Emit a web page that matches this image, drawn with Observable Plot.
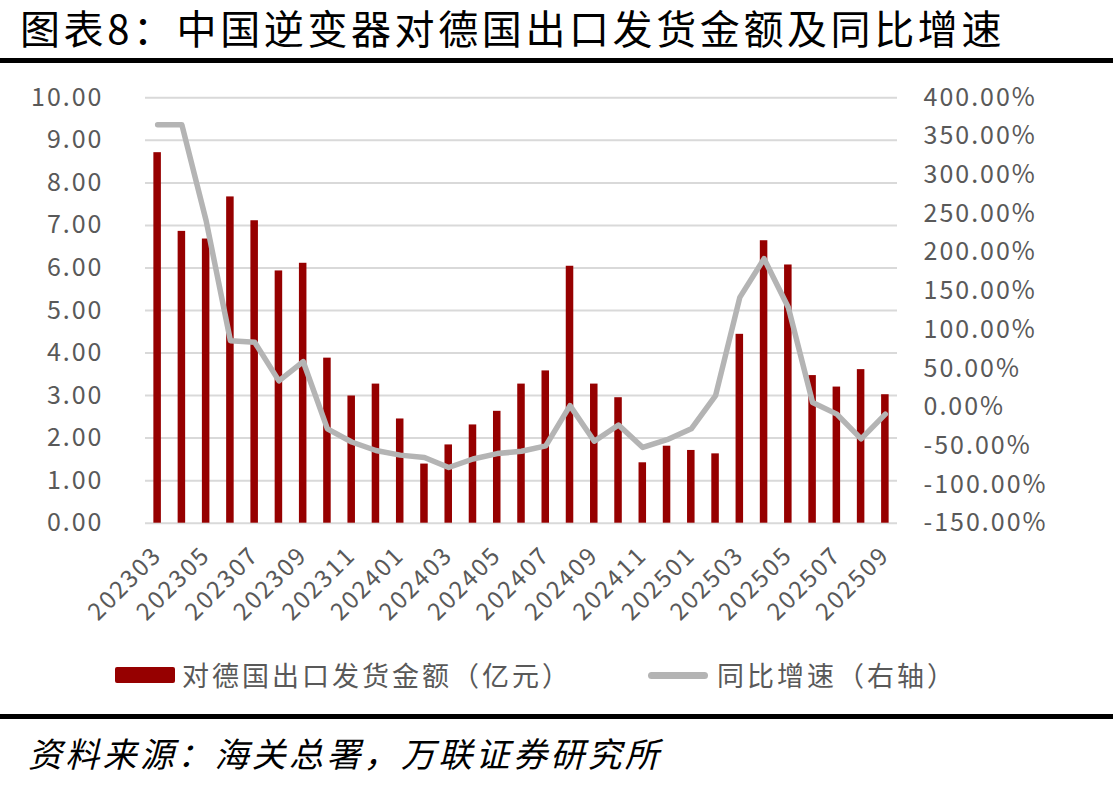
<!DOCTYPE html>
<html>
<head>
<meta charset="utf-8">
<script src="https://cdn.jsdelivr.net/npm/d3@7"></script>
<script src="https://cdn.jsdelivr.net/npm/@observablehq/plot@0.6"></script>
<style>
  html, body { margin: 0; padding: 0; background: #fff; }
  body { width: 1113px; height: 787px; position: relative; overflow: hidden; font-family: "Noto Sans CJK SC", sans-serif; }
  #title { position: absolute; left: 20px; top: 3px; font-size: 40px; line-height: 48px; letter-spacing: 3.6px; color: #000; white-space: nowrap; }
  .rule { position: absolute; left: 0; width: 1113px; background: #000; }
  #chart { position: absolute; left: 0; top: 70px; }
  #chart svg text { letter-spacing: 2px; }
  .leg { position: absolute; top: 657px; line-height: 36px; font-size: 27px; letter-spacing: 3px; color: #595959; white-space: nowrap; }
  .sw-bar { position: absolute; left: 115px; top: 667px; width: 60px; height: 16px; background: #960000; border-radius: 2px; }
  .sw-line { position: absolute; left: 648px; top: 672px; width: 60px; height: 7px; background: #b4b4b4; border-radius: 4px; }
  #source { position: absolute; left: 28px; top: 731px; font-size: 34px; line-height: 44px; letter-spacing: 3.3px; font-style: italic; color: #000; white-space: nowrap; }
</style>
</head>
<body>
<div id="title">图表8：中国逆变器对德国出口发货金额及同比增速</div>
<div class="rule" style="top:58px;height:5px;"></div>
<div id="chart"></div>
<div class="sw-bar"></div>
<div class="leg" style="left:182px;">对德国出口发货金额（亿元）</div>
<div class="sw-line"></div>
<div class="leg" style="left:717px;">同比增速（右轴）</div>
<div class="rule" style="top:714px;height:5px;"></div>
<div id="source">资料来源：海关总署，万联证券研究所</div>
<script>
const months = [
  "202303","202304","202305","202306","202307","202308","202309","202310","202311","202312",
  "202401","202402","202403","202404","202405","202406","202407","202408","202409","202410","202411","202412",
  "202501","202502","202503","202504","202505","202506","202507","202508","202509"
];
// 对德国出口发货金额（亿元）
const amount = [
  8.71, 6.86, 6.68, 7.67, 7.11, 5.93, 6.11, 3.88, 2.99, 3.27,
  2.45, 1.39, 1.84, 2.31, 2.63, 3.27, 3.58, 6.04, 3.27, 2.95, 1.42, 1.81,
  1.71, 1.63, 4.44, 6.64, 6.07, 3.47, 3.20, 3.61, 3.02
];
// 同比增速（%，右轴）
const yoy = [
  365, 365, 241, 86, 84, 34, 59, -28, -45, -56,
  -62, -65, -78, -67, -60, -57, -50, 2, -44, -23, -52, -42,
  -28, 15, 142, 192, 129, 6, -9, -41, -9
];
const leftTicks = [0, 1, 2, 3, 4, 5, 6, 7, 8, 9, 10];
const rightTicks = [-150, -100, -50, 0, 50, 100, 150, 200, 250, 300, 350, 400];
const xTicks = months.filter((_, i) => i % 2 === 0);

const leftDomain = [0, 10];
const rightDomain = [-150, 400];
const toLeft = d3.scaleLinear().domain(rightDomain).range(leftDomain);

const data = months.map((m, i) => ({month: m, amount: amount[i], yoy: yoy[i]}));

const chart = Plot.plot({
  width: 1113,
  height: 575,
  marginLeft: 145,
  marginRight: 216,
  marginTop: 27.3,
  marginBottom: 122.3,
  style: {fontFamily: "'Noto Sans CJK SC', sans-serif", fontSize: "25px", color: "#595959", background: "transparent", overflow: "visible"},
  x: {domain: months, paddingInner: 0.69, paddingOuter: 0.345, align: 0.5, round: false, label: null},
  y: {domain: leftDomain, label: null},
  marks: [
    Plot.gridY(leftTicks, {stroke: "#d9d9d9", strokeOpacity: 1, strokeWidth: 2}),
    Plot.axisY(leftTicks, {anchor: "left", tickSize: 0, tickPadding: 42, tickFormat: d => d.toFixed(2), fill: "#595959", fontSize: 25, label: null}),
    Plot.axisY(rightTicks.map(toLeft), {anchor: "right", tickSize: 0, tickPadding: 26, tickFormat: v => Math.round(toLeft.invert(v)).toFixed(2) + "%", fill: "#595959", fontSize: 25, label: null}),
    Plot.barY(data, {x: "month", y: "amount", fill: "#960000"}),
    Plot.lineY(data, {x: "month", y: d => toLeft(d.yoy), stroke: "#b4b4b4", strokeWidth: 5.5, strokeLinejoin: "round", strokeLinecap: "round"}),
    Plot.axisX(xTicks, {tickSize: 0, tickPadding: 28, tickRotate: -45, fill: "#595959", fontSize: 24, label: null})
  ]
});
document.getElementById("chart").appendChild(chart);
</script>
</body>
</html>
